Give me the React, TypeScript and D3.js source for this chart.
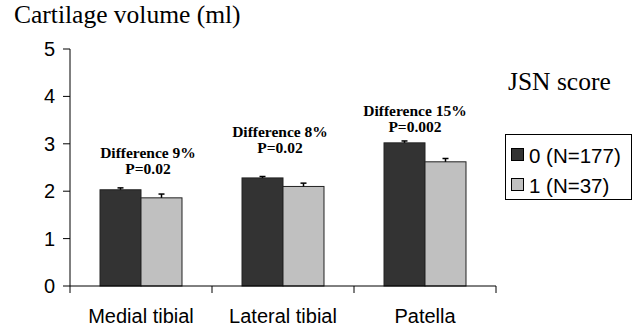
import React from "react";
import * as d3 from "d3";

const categories = ["Medial tibial", "Lateral tibial", "Patella"];
const seriesNames = ["0 (N=177)", "1 (N=37)"];
const jsn0Values = [2.03, 2.28, 3.02];
const jsn0Errors = [0.04, 0.03, 0.04];
const jsn1Values = [1.86, 2.1, 2.62];
const jsn1Errors = [0.08, 0.07, 0.07];
const diffLabels = ["Difference 9%", "Difference 8%", "Difference 15%"];
const pLabels = ["P=0.02", "P=0.02", "P=0.002"];
const yTicks = [0, 1, 2, 3, 4, 5];

const W = 637;
const H = 331;
const left = 70;
const right = 496;
const top = 49;
const bottom = 286;

export default function App() {
  const x = d3.scaleBand<string>().domain(categories).range([left, right]).paddingInner(0).paddingOuter(0);
  const inner = d3.scaleBand<string>().domain(["0", "1"]).range([0, x.bandwidth()]).paddingInner(0).paddingOuter(0.732);
  const y = d3.scaleLinear().domain([0, 5]).range([bottom, top]);
  const colors = ["#333333", "#c0c0c0"];
  const series = [
    { v: jsn0Values, e: jsn0Errors },
    { v: jsn1Values, e: jsn1Errors },
  ];
  const annY = [2.7, 3.14, 3.58];
  const annDx = [7, -3, -10];
  const tickXs = [left, ...categories.map((c) => (x(c) as number) + x.bandwidth())];
  const serif = "Liberation Serif, Times New Roman, serif";
  const sans = "Liberation Sans, Arial, sans-serif";

  return (
    <svg width={W} height={H} style={{ position: "absolute", left: 0, top: 0, background: "#fff" }}>
      <text x={14} y={23} fontFamily={serif} fontSize={25.5} fill="#000">
        Cartilage volume (ml)
      </text>
      {/* y axis */}
      <line x1={left} x2={left} y1={top} y2={bottom} stroke="#000" strokeWidth={1} />
      {yTicks.map((t) => (
        <g key={t}>
          <line x1={left - 7} x2={left} y1={y(t)} y2={y(t)} stroke="#000" />
          <text x={55} y={y(t) + 7} textAnchor="end" fontFamily={sans} fontSize={20}>
            {t}
          </text>
        </g>
      ))}
      {/* bars */}
      {categories.map((c, i) => (
        <g key={c}>
          {series.map((s, j) => {
            const bx = (x(c) as number) + (inner(String(j)) as number);
            const bw = inner.bandwidth();
            const cx = bx + bw / 2;
            return (
              <g key={j}>
                <rect x={bx} y={y(s.v[i])} width={bw} height={bottom - y(s.v[i])} fill={colors[j]} stroke="#222" strokeWidth={1} />
                <line x1={cx} x2={cx} y1={y(s.v[i])} y2={y(s.v[i] + s.e[i])} stroke="#000" strokeWidth={1.5} />
                <line x1={cx - 3} x2={cx + 3} y1={y(s.v[i] + s.e[i])} y2={y(s.v[i] + s.e[i])} stroke="#000" strokeWidth={1.5} />
              </g>
            );
          })}
          <text
            x={(x(c) as number) + x.bandwidth() / 2 + annDx[i]}
            y={y(annY[i])}
            textAnchor="middle"
            fontFamily={serif}
            fontWeight="bold"
            fontSize={15.5}
          >
            {diffLabels[i]}
          </text>
          <text
            x={(x(c) as number) + x.bandwidth() / 2 + annDx[i]}
            y={y(annY[i]) + 16}
            textAnchor="middle"
            fontFamily={serif}
            fontWeight="bold"
            fontSize={15.5}
          >
            {pLabels[i]}
          </text>
          <text x={(x(c) as number) + x.bandwidth() / 2} y={323} textAnchor="middle" fontFamily={sans} fontSize={20}>
            {c}
          </text>
        </g>
      ))}
      {/* x axis */}
      <line x1={left} x2={right} y1={bottom} y2={bottom} stroke="#000" />
      {tickXs.map((tx, k) => (
        <line key={k} x1={tx} x2={tx} y1={bottom} y2={bottom + 7} stroke="#000" />
      ))}
      {/* legend */}
      <text x={508} y={90} fontFamily={serif} fontSize={25.5}>
        JSN score
      </text>
      <rect x={505.5} y={134.5} width={126} height={65} fill="none" stroke="#000" />
      {seriesNames.map((n, j) => (
        <g key={n}>
          <rect x={511.5} y={148.5 + j * 30} width={12} height={12} fill={colors[j]} stroke="#000" />
          <text x={529} y={163 + j * 30} fontFamily={sans} fontSize={20.5}>
            {n}
          </text>
        </g>
      ))}
    </svg>
  );
}
